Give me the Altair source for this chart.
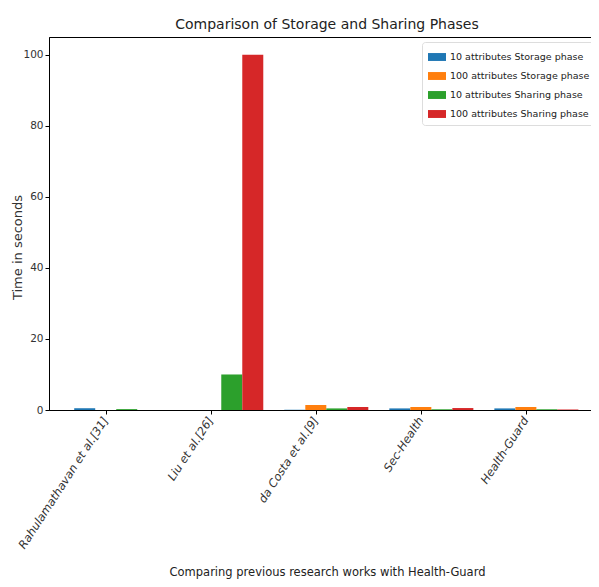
import altair as alt
import pandas as pd

works = ["Rahulamathavan et al.[31]", "Liu et al.[26]", "da Costa et al.[9]", "Sec-Health", "Health-Guard"]
series = ["10 attributes Storage phase", "100 attributes Storage phase",
          "10 attributes Sharing phase", "100 attributes Sharing phase"]
colors = ["#1f77b4", "#ff7f0e", "#2ca02c", "#d62728"]
storage_10 = [0.5, 0.0, 0.1, 0.45, 0.45]
storage_100 = [0.0, 0.0, 1.4, 0.85, 0.85]
sharing_10 = [0.25, 10.0, 0.45, 0.2, 0.2]
sharing_100 = [0.0, 100.0, 0.85, 0.55, 0.15]
y_ticks = [0, 20, 40, 60, 80, 100]

values = [storage_10, storage_100, sharing_10, sharing_100]
bar_w = 0.2
rows = []
for k, (s, vals) in enumerate(zip(series, values)):
    for i, (w, v) in enumerate(zip(works, vals)):
        c = i + (k - 1) * bar_w
        rows.append({"work": w, "series": s, "value": v, "base": 0.0,
                     "x0": c - bar_w / 2, "x1": c + bar_w / 2})
df = pd.DataFrame(rows)

font = "DejaVu Sans"
label_expr = "[" + ",".join("'" + w + "'" for w in works) + "][datum.value]"

chart = alt.Chart(df).mark_bar(strokeWidth=0).encode(
    x=alt.X("x0:Q", scale=alt.Scale(domain=[-0.54, 4.62], nice=False, zero=False),
            axis=alt.Axis(values=list(range(len(works))), labelExpr=label_expr,
                          labelAngle=-57, labelAlign="right", labelBaseline="middle",
                          labelFontStyle="italic", labelFontSize=11.5, labelFont=font,
                          labelColor="#333", tickColor="black", domainColor="black",
                          tickSize=4, labelPadding=4, grid=False,
                          title="Comparing previous research works with Health-Guard",
                          titleFont=font, titleFontSize=11.5, titleFontWeight="normal",
                          titleColor="#222", titleX=278, titleY=156, titleBaseline="top")),
    x2="x1:Q",
    y=alt.Y("value:Q", scale=alt.Scale(domain=[0, 105], nice=False),
            axis=alt.Axis(values=y_ticks, grid=False, tickColor="black", domainColor="black",
                          tickSize=4, labelFont=font, labelFontSize=10.5, labelColor="#333",
                          title="Time in seconds", titleFont=font, titleFontSize=13,
                          titleFontWeight="normal", titleColor="#333", titleX=-32,
                          titleY=210, titleBaseline="middle")),
    y2="base:Q",
    color=alt.Color("series:N", sort=series,
                    scale=alt.Scale(domain=series, range=colors),
                    legend=alt.Legend(title=None, orient="none", legendX=373, legendY=5,
                                      labelFont=font, labelFontSize=9.5, labelColor="#222",
                                      symbolType="M-1,-0.44L1,-0.44L1,0.44L-1,0.44Z",
                                      symbolSize=324, symbolStrokeWidth=0, symbolOpacity=1,
                                      rowPadding=5, padding=6, strokeColor="#ddd",
                                      fillColor="white", cornerRadius=3, labelLimit=200)),
).properties(
    width=542, height=373,
    title=alt.TitleParams("Comparison of Storage and Sharing Phases", font=font,
                          fontSize=14, fontWeight="normal", color="#222", offset=5, dx=7),
    autosize=alt.AutoSizeParams(type="none"),
    padding={"left": 41, "top": 29, "right": 0, "bottom": 169},
).configure_view(stroke="black", strokeWidth=1)

chart.save("out.html", embed_options={"renderer": "svg", "actions": False})
